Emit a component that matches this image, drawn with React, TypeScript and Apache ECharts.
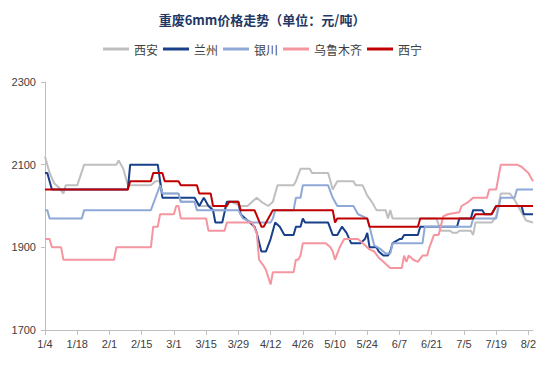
import React, { useEffect, useRef } from 'react';
import * as echarts from 'echarts';

// categories: every day from 1/4 to 8/4 (tick labels every 14 days)
function buildDates(): string[] {
  const out: string[] = [];
  const d = new Date(2021, 0, 4);
  for (let i = 0; i <= 212; i++) {
    out.push(`${d.getMonth() + 1}/${d.getDate()}`);
    d.setDate(d.getDate() + 1);
  }
  return out;
}
const dates = buildDates();
const labelStep = 14;

const seriesNames = ['西安', '兰州', '银川', '乌鲁木齐', '西宁'];
const seriesColors = ['#BFBFBF', '#173F8A', '#8EA9D8', '#F4959F', '#C00000'];

const xian: [string, number][] = [
  ['1/4', 2120], ['1/6', 2080], ['1/8', 2055], ['1/10', 2045], ['1/12', 2030], ['1/13', 2050],
  ['1/18', 2050], ['1/21', 2100], ['2/4', 2100], ['2/5', 2110], ['2/7', 2090], ['2/9', 2050],
  ['2/19', 2050], ['2/21', 2060], ['2/23', 2060], ['2/24', 2030], ['3/3', 2030], ['3/4', 2010],
  ['3/11', 2010], ['3/12', 2000], ['3/17', 2000], ['3/18', 1990], ['3/23', 1990], ['3/24', 2010],
  ['3/26', 2010], ['3/30', 2000], ['4/2', 2000], ['4/4', 2010], ['4/6', 2020], ['4/8', 2010],
  ['4/11', 2000], ['4/13', 2010], ['4/15', 2050], ['4/22', 2050], ['4/23', 2060], ['4/25', 2090],
  ['4/29', 2090], ['4/30', 2080], ['5/7', 2080], ['5/9', 2040], ['5/11', 2060], ['5/18', 2060],
  ['5/19', 2050], ['5/22', 2050], ['5/24', 2025], ['5/26', 2010], ['5/28', 1990], ['6/1', 1990],
  ['6/2', 1970], ['6/3', 1990], ['6/4', 1970], ['6/23', 1970], ['6/25', 1940], ['6/29', 1940],
  ['6/30', 1935], ['7/2', 1935], ['7/3', 1940], ['7/8', 1940], ['7/9', 1930], ['7/10', 1960],
  ['7/17', 1960], ['7/19', 1975], ['7/21', 2030], ['7/25', 2030], ['7/27', 2015], ['7/30', 1985],
  ['8/1', 1965], ['8/4', 1960],
];

const lanzhou: [string, number][] = [
  ['1/4', 2080], ['1/5', 2080], ['1/7', 2040], ['2/9', 2040], ['2/10', 2100], ['2/22', 2100],
  ['2/24', 2020], ['3/10', 2020], ['3/12', 2000], ['3/14', 2020], ['3/16', 2000], ['3/18', 1990],
  ['3/19', 1960], ['3/22', 1960], ['3/24', 2010], ['3/29', 2010], ['3/30', 1980], ['4/1', 1970],
  ['4/3', 1960], ['4/5', 1950], ['4/6', 1935], ['4/8', 1890], ['4/10', 1890], ['4/12', 1920],
  ['4/14', 1960], ['4/16', 1950], ['4/18', 1930], ['4/22', 1930], ['4/23', 1950], ['4/25', 1950],
  ['4/26', 1970], ['4/27', 1960], ['5/7', 1960], ['5/9', 1930], ['5/11', 1930], ['5/13', 1950],
  ['5/15', 1935], ['5/17', 1910], ['5/21', 1910], ['5/23', 1920], ['5/24', 1935], ['5/25', 1900],
  ['5/28', 1900], ['5/29', 1890], ['5/31', 1880], ['6/2', 1880], ['6/3', 1890], ['6/4', 1910],
  ['6/7', 1920], ['6/8', 1920], ['6/9', 1930], ['6/15', 1930], ['6/16', 1950], ['7/2', 1950],
  ['7/3', 1970], ['7/8', 1970], ['7/9', 1990], ['7/13', 1990], ['7/14', 1980], ['7/17', 1980],
  ['7/19', 2000], ['7/30', 2000], ['7/31', 1980], ['8/4', 1980],
];

const yinchuan: [string, number][] = [
  ['1/4', 1990], ['1/5', 1990], ['1/6', 1970], ['1/20', 1970], ['1/21', 1990], ['2/19', 1990],
  ['2/21', 2020], ['2/23', 2050], ['2/24', 2030], ['3/3', 2030], ['3/4', 2010], ['3/10', 2010],
  ['3/11', 1990], ['3/29', 1990], ['3/31', 1970], ['4/4', 1960], ['4/12', 1960], ['4/13', 1970],
  ['4/14', 1990], ['4/22', 1990], ['4/23', 2020], ['4/25', 2020], ['4/26', 2050], ['5/7', 2050],
  ['5/9', 2020], ['5/11', 2000], ['5/18', 2000], ['5/20', 1980], ['5/24', 1970], ['5/25', 1950],
  ['5/27', 1905], ['5/30', 1895], ['6/1', 1885], ['6/3', 1885], ['6/4', 1910], ['6/17', 1910],
  ['6/18', 1950], ['7/8', 1950], ['7/9', 1970], ['7/19', 1970], ['7/21', 2020], ['7/27', 2020],
  ['7/28', 2040], ['8/4', 2040],
];

const urumqi: [string, number][] = [
  ['1/4', 1920], ['1/6', 1920], ['1/7', 1900], ['1/11', 1900], ['1/12', 1870], ['2/3', 1870],
  ['2/4', 1900], ['2/19', 1900], ['2/20', 1950], ['2/22', 1950], ['2/23', 1980], ['3/1', 1980],
  ['3/2', 2000], ['3/3', 2000], ['3/4', 1970], ['3/15', 1970], ['3/16', 1940], ['3/23', 1940],
  ['3/24', 1960], ['4/4', 1960], ['4/6', 1935], ['4/7', 1870], ['4/9', 1855], ['4/10', 1845],
  ['4/12', 1810], ['4/13', 1840], ['4/22', 1840], ['4/23', 1870], ['4/24', 1870], ['4/25', 1880],
  ['4/26', 1910], ['5/6', 1910], ['5/8', 1900], ['5/9', 1890], ['5/10', 1870], ['5/12', 1900],
  ['5/14', 1920], ['5/20', 1920], ['5/23', 1905], ['5/25', 1895], ['5/27', 1890], ['5/29', 1875],
  ['5/31', 1865], ['6/2', 1855], ['6/3', 1850], ['6/8', 1850], ['6/9', 1880], ['6/10', 1865],
  ['6/11', 1880], ['6/13', 1870], ['6/15', 1865], ['6/17', 1880], ['6/19', 1880], ['6/20', 1900],
  ['6/22', 1930], ['6/24', 1930], ['6/26', 1975], ['6/28', 1980], ['7/3', 1985], ['7/4', 2000],
  ['7/7', 2010], ['7/9', 2020], ['7/15', 2020], ['7/16', 2040], ['7/19', 2040], ['7/21', 2100],
  ['7/28', 2100], ['7/30', 2095], ['8/2', 2080], ['8/4', 2060],
];

const xining: [string, number][] = [
  ['1/4', 2040], ['2/9', 2040], ['2/10', 2060], ['2/19', 2060], ['2/20', 2080], ['2/24', 2080],
  ['2/25', 2060], ['3/3', 2060], ['3/4', 2050], ['3/11', 2050], ['3/12', 2030], ['3/17', 2030],
  ['3/18', 2000], ['3/24', 2000], ['3/25', 2010], ['3/29', 2010], ['3/30', 1990], ['4/5', 1990],
  ['4/8', 1950], ['4/9', 1950], ['4/11', 1970], ['4/13', 1990], ['5/9', 1990], ['5/10', 1960],
  ['5/11', 1970], ['5/24', 1970], ['5/25', 1950], ['6/15', 1950], ['6/16', 1970], ['7/9', 1970],
  ['7/10', 1980], ['7/17', 1980], ['7/19', 2000], ['8/4', 2000],
];

const seriesData = [xian, lanzhou, yinchuan, urumqi, xining];

const yMin = 1700;
const yMax = 2300;
const yInterval = 200;

export default function App() {
  const ref = useRef<HTMLDivElement>(null);
  useEffect(() => {
    if (!ref.current) return;
    const chart = echarts.init(ref.current, undefined, { renderer: 'svg' });
    const labelFont = { fontFamily: 'Liberation Sans, Arial, sans-serif', fontSize: 11, color: '#404040' };
    chart.setOption({
      animation: false,
      backgroundColor: '#ffffff',
      title: {
        text: '重废6mm价格走势（单位：元/吨）',
        left: 262,
        textAlign: 'center',
        top: 13,
        padding: 0,
        textStyle: {
          fontFamily: 'Noto Sans CJK SC',
          fontSize: 13,
          fontWeight: 'bold',
          color: '#1F3864',
        },
      },
      legend: {
        top: 43,
        left: 103,
        padding: 0,
        itemGap: 5,
        itemWidth: 26,
        itemHeight: 3,
        icon: 'rect',
        textStyle: { fontFamily: 'Noto Sans CJK SC', fontSize: 12, color: '#404040' },
        data: seriesNames,
      },
      grid: { left: 45, right: 21, top: 82, bottom: 37, containLabel: false },
      xAxis: {
        type: 'category',
        data: dates,
        boundaryGap: false,
        axisLine: { lineStyle: { color: '#BFBFBF', width: 1 } },
        axisTick: {
          show: true,
          interval: (idx: number) => idx % labelStep === 0,
          length: 5,
          lineStyle: { color: '#BFBFBF' },
        },
        axisLabel: { ...labelFont, interval: (idx: number) => idx % labelStep === 0, margin: 8 },
        splitLine: { show: false },
      },
      yAxis: {
        type: 'value',
        min: yMin,
        max: yMax,
        interval: yInterval,
        axisLine: { show: true, lineStyle: { color: '#BFBFBF', width: 1 } },
        axisTick: { show: true, length: 4, lineStyle: { color: '#BFBFBF' } },
        axisLabel: { ...labelFont, margin: 9, formatter: (v: number) => String(v) },
        splitLine: { show: false },
      },
      series: seriesNames.map((name, i) => ({
        name,
        type: 'line',
        data: seriesData[i],
        symbol: 'none',
        lineStyle: { width: 2, color: seriesColors[i] },
        itemStyle: { color: seriesColors[i] },
      })),
    });
    return () => chart.dispose();
  }, []);
  return <div ref={ref} style={{ width: 554, height: 367, position: 'absolute', left: 0, top: 0 }} />;
}
